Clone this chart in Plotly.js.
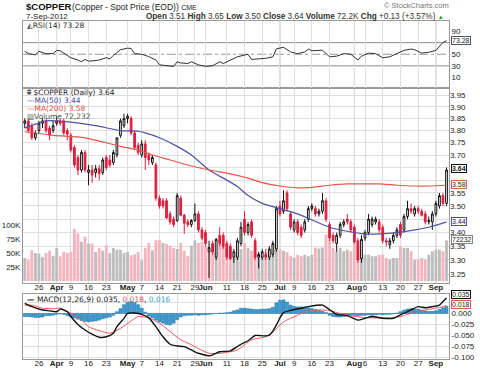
<!DOCTYPE html>
<html><head><meta charset="utf-8">
<script src="https://cdn.plot.ly/plotly-3.0.1.min.js"></script>
<style>html,body{margin:0;padding:0;background:#fff;}#chart{width:480px;height:369px;}</style>
</head><body><div id="chart"></div>
<script>
// ---- trading-day ticks (index 1 = 20-Mar-2012 ... 120 = 7-Sep-2012)
const tickIdx = [5,10,14,19,24,30,34,39,44,49,52,58,63,68,73,77,82,87,94,97,102,107,112,117];
const tickText = ['26','<b>Apr</b>','9','16','23','<b>May</b>','7','14','21','29','<b>Jun</b>','11','18','25','<b>Jul</b>','9','16','23','<b>Aug</b>','6','13','20','27','<b>Sep</b>'];
const monthIdx = [10,30,52,73,94,117];

// ---- price OHLC
const openP = [3.83,3.84,3.82,3.77,3.80,3.83,3.84,3.81,3.80,3.83,
3.84,3.84,3.80,3.78,3.73,3.69,3.64,3.71,3.63,3.64,
3.63,3.645,3.63,3.69,3.68,3.67,3.70,3.78,3.82,3.85,
3.85,3.79,3.74,3.70,3.745,3.70,3.67,3.66,3.53,3.52,
3.52,3.47,3.45,3.445,3.53,3.465,3.44,3.43,3.445,3.47,
3.41,3.40,3.33,3.36,3.31,3.39,3.39,3.36,3.35,3.31,
3.31,3.36,3.45,3.40,3.44,3.37,3.31,3.31,3.32,3.31,
3.32,3.34,3.50,3.48,3.55,3.47,3.41,3.44,3.42,3.41,
3.45,3.49,3.49,3.47,3.48,3.52,3.43,3.39,3.36,3.39,
3.43,3.45,3.44,3.42,3.37,3.305,3.38,3.40,3.43,3.44,
3.44,3.42,3.37,3.355,3.37,3.39,3.43,3.41,3.46,3.49,
3.47,3.49,3.48,3.47,3.44,3.44,3.47,3.50,3.54,3.51];
const highP = [3.85,3.85,3.83,3.80,3.84,3.85,3.85,3.82,3.84,3.86,
3.85,3.85,3.81,3.79,3.74,3.70,3.72,3.72,3.66,3.66,
3.66,3.66,3.69,3.70,3.70,3.72,3.77,3.85,3.87,3.87,
3.86,3.80,3.75,3.76,3.76,3.71,3.70,3.67,3.54,3.53,
3.53,3.48,3.46,3.55,3.54,3.47,3.45,3.45,3.51,3.48,
3.42,3.41,3.37,3.37,3.38,3.42,3.40,3.37,3.36,3.34,
3.38,3.44,3.48,3.44,3.45,3.38,3.33,3.34,3.34,3.35,
3.37,3.50,3.52,3.56,3.56,3.48,3.45,3.45,3.43,3.45,
3.50,3.51,3.50,3.49,3.55,3.53,3.44,3.40,3.40,3.44,
3.45,3.47,3.45,3.43,3.38,3.39,3.41,3.47,3.46,3.46,
3.45,3.43,3.38,3.38,3.40,3.42,3.44,3.47,3.52,3.51,
3.50,3.50,3.49,3.48,3.46,3.48,3.52,3.55,3.55,3.65];
const lowP = [3.81,3.79,3.76,3.76,3.79,3.81,3.79,3.76,3.79,3.82,
3.82,3.78,3.76,3.71,3.65,3.62,3.63,3.63,3.58,3.59,
3.61,3.60,3.62,3.64,3.65,3.66,3.69,3.77,3.81,3.83,
3.78,3.72,3.70,3.69,3.64,3.66,3.66,3.52,3.49,3.49,
3.45,3.43,3.42,3.44,3.46,3.395,3.42,3.42,3.44,3.40,
3.37,3.35,3.236,3.32,3.30,3.35,3.34,3.30,3.30,3.29,
3.30,3.35,3.39,3.39,3.38,3.30,3.27,3.30,3.30,3.30,
3.31,3.33,3.46,3.47,3.48,3.41,3.40,3.39,3.38,3.40,
3.44,3.48,3.46,3.46,3.47,3.44,3.37,3.36,3.33,3.38,
3.42,3.43,3.40,3.36,3.29,3.29,3.37,3.39,3.42,3.43,
3.40,3.36,3.35,3.34,3.36,3.38,3.38,3.40,3.45,3.47,
3.46,3.47,3.46,3.43,3.43,3.41,3.46,3.49,3.50,3.50];
const closeP = [3.84,3.80,3.77,3.79,3.83,3.84,3.80,3.78,3.82,3.84,
3.83,3.79,3.785,3.72,3.66,3.64,3.71,3.64,3.64,3.62,
3.645,3.625,3.68,3.65,3.66,3.71,3.77,3.84,3.85,3.86,
3.79,3.73,3.71,3.745,3.69,3.68,3.69,3.53,3.50,3.50,
3.455,3.44,3.43,3.54,3.465,3.435,3.43,3.445,3.47,3.41,
3.38,3.36,3.345,3.33,3.375,3.36,3.35,3.31,3.305,3.33,
3.37,3.42,3.40,3.43,3.39,3.31,3.32,3.33,3.31,3.34,
3.36,3.49,3.47,3.52,3.49,3.42,3.44,3.40,3.39,3.44,
3.49,3.50,3.47,3.48,3.52,3.45,3.38,3.37,3.39,3.43,
3.44,3.44,3.41,3.365,3.30,3.375,3.40,3.45,3.45,3.45,
3.41,3.37,3.365,3.37,3.39,3.41,3.39,3.46,3.49,3.48,
3.49,3.48,3.465,3.44,3.445,3.47,3.51,3.54,3.51,3.64];

// ---- volume (thousands)
const volumeK = [41,37,55,50,49,43,50,54,45,59, 44,52,50,52,93,85,70,79,67,67,
52,59,54,64,50,59,56,56,50,52, 46,48,52,37,59,68,55,73,73,68,
66,63,59,57,68,54,45,63,73,68, 70,63,57,57,52,66,63,57,57,49,
52,57,68,59,54,59,49,45,52,52, 54,74,57,54,52,45,42,47,44,47,
44,47,60,58,60,83,74,59,53,59, 53,56,53,68,62,53,47,47,44,44,
47,47,41,38,41,41,62,59,59,53, 38,38,41,38,47,53,56,56,53,72.232];

// ---- moving averages
const ma50X = [1,7,10,14,21,28,33,35,39,44,48,53,58,61,64,68,73,78,82,87,92,97,101,106,111,115,120];
const ma50Y = [3.81,3.84,3.84,3.835,3.82,3.80,3.797,3.79,3.77,3.735,3.70,3.64,3.60,3.575,3.54,3.51,3.49,3.47,3.447,3.42,3.405,3.395,3.395,3.40,3.41,3.42,3.44];
const ma200X = [1,9,18,28,33,37,42,47,53,59,64,68,73,78,82,87,92,97,101,106,111,115,120];
const ma200Y = [3.795,3.78,3.77,3.735,3.72,3.70,3.68,3.66,3.64,3.625,3.608,3.59,3.577,3.57,3.572,3.58,3.585,3.585,3.585,3.58,3.577,3.577,3.58];

// ---- RSI(14)
const rsiX = [1,2,4,5,7,9,10,11,13,14,16,17,18,19,20,22,24,25,26,28,30,31,32,34,36,38,39,41,43,44,45,47,48,50,52,54,56,57,59,61,64,65,67,69,71,72,74,76,78,80,81,82,85,86,87,89,91,93,95,96,98,100,102,104,106,108,110,111,113,115,117,118,119,120];
const rsiY = [55,51,49,55,51,51,56.5,56,48,44,40,37,41,38,38.5,40,44,42,48,57.8,60.5,60,51,50,46,40,31.7,30.5,29,37,35,34,37,31.7,29,30,37,34,40,45.6,50,41,42,43,45.6,59.4,62,54,51,54,59,56,57,51,45.6,46.7,51,50,40,46.7,52,51,44,45.6,51,56.7,59,57.8,52,53.5,56.7,63,70.5,73.28];

// ---- MACD(12,26,9)
const macdX = [1,3,6,8,10,11,13,14,16,18,20,22,24,26,27,29,30,32,34,36,38,40,42,44,46,48,50,53,54,56,59,61,62,64,66,67,69,70,71,72,73,74,76,79,81,85,89,92,95,97,99,102,105,107,110,112,114,116,118,119,120];
const macdY = [0.023,0.0155,0.008,0.006,0.004,0.010,0.004,-0.007,-0.025,-0.0375,-0.047,-0.054,-0.053,-0.045,-0.030,-0.011,0.000,0.001,-0.002,-0.010,-0.030,-0.053,-0.070,-0.074,-0.0755,-0.083,-0.0905,-0.096,-0.094,-0.087,-0.085,-0.075,-0.070,-0.062,-0.050,-0.050,-0.051,-0.049,-0.040,-0.026,-0.010,0.002,0.007,0.012,0.0155,0.019,-0.002,-0.005,-0.015,-0.011,-0.007,-0.011,-0.011,-0.003,0.008,0.0155,0.013,0.0155,0.019,0.027,0.035];
const sigX = [1,3,6,9,11,14,17,19,22,25,28,31,33,36,39,42,45,48,50,53,56,59,61,65,69,71,74,77,80,84,87,90,93,96,99,103,107,111,114,118,120];
const sigY = [0.019,0.019,0.012,0.0106,0.012,0.001,-0.0148,-0.030,-0.039,-0.045,-0.034,-0.017,-0.007,-0.010,-0.022,-0.041,-0.060,-0.071,-0.080,-0.0905,-0.0905,-0.087,-0.083,-0.060,-0.053,-0.042,-0.019,-0.0075,0.003,0.008,0.0068,0.000,-0.005,-0.0085,-0.010,-0.010,-0.007,0.003,0.008,0.0135,0.018];
const histY = [-0.007,-0.007,-0.008,-0.009,-0.009,-0.008,-0.005,-0.005,-0.004,-0.002,
-0.001,-0.002,-0.005,-0.008,-0.010,-0.013,-0.016,-0.018,-0.019,-0.018,
-0.017,-0.015,-0.012,-0.010,-0.008,-0.004,0.004,0.011,0.020,0.025,
0.027,0.025,0.020,0.012,0.003,-0.006,-0.010,-0.015,-0.019,-0.022,
-0.025,-0.026,-0.022,-0.014,-0.008,-0.005,-0.004,-0.004,-0.003,-0.004,
-0.003,-0.003,-0.002,-0.001,0.000,0.001,0.001,0.002,0.003,0.006,
0.008,0.012,0.012,0.011,0.010,0.009,0.009,0.010,0.010,0.011,
0.014,0.024,0.030,0.031,0.026,0.019,0.016,0.015,0.015,0.014,
0.013,0.011,0.009,0.007,0.005,0.002,-0.004,-0.007,-0.008,-0.008,
-0.007,-0.006,-0.004,-0.004,-0.005,-0.004,-0.004,-0.003,-0.004,-0.003,
-0.002,-0.003,-0.002,-0.002,-0.001,0.001,0.004,0.008,0.010,0.011,
0.010,0.010,0.008,0.006,0.005,0.005,0.006,0.009,0.013,0.016];

// axis ticks (labels hidden where the reference's value tags cover them)
const priceTicks = [3.25,3.30,3.35,3.40,3.45,3.50,3.55,3.60,3.65,3.70,3.75,3.80,3.85,3.90,3.95];
const priceHidden = [3.45,3.60,3.65];
const volTicks = [25,50,75,100];
const macdTicks = [-0.100,-0.075,-0.050,-0.025,0,0.025];
const macdHidden = [0.025];
const rsiTicks = [10,30,50,70,90];
const rsiHidden = [70];

// ---------- build
const idx = closeP.map((_, i) => i + 1);
const volColors = closeP.map((c, i) => (i > 0 && c < closeP[i-1]) ? '#f4b3bd' : '#bdbdbd');

const FONT = 'Liberation Sans, Arial, sans-serif';
const SMALL = 'DejaVu Sans, Liberation Sans, sans-serif';
const W = 480, H = 369, L = 23, R = 31;
const PW = W - L - R;
const px = x => (x - L) / PW;
const py = y => (H - y) / H;

const xr = [0.5, 120.7];
const gridC = '#dedede';
const lineC = '#9a9a9a';
function xAxis(anchor, labels) {
  return {
    anchor: anchor, range: xr, tickmode: 'array', tickvals: tickIdx, ticktext: tickText,
    showticklabels: labels, tickangle: 0, ticklabelstandoff: -4,
    tickfont: {size: 8, color: '#222', family: FONT},
    showgrid: true, gridcolor: gridC, gridwidth: 1, zeroline: false, ticks: '',
    showline: true, linecolor: lineC, linewidth: 1, mirror: true,
    rangeslider: {visible: false}, fixedrange: true
  };
}
const hideTxt = (vals, hidden, fmt) => vals.map(v => hidden.includes(v) ? '' : fmt(v));

const traces = [
  {type: 'scatter', x: rsiX, y: rsiY, xaxis: 'x3', yaxis: 'y', mode: 'lines',
   line: {color: '#333', width: 1}, hoverinfo: 'skip'},
  {type: 'bar', x: idx, y: volumeK.map(v => v * 1000), xaxis: 'x2', yaxis: 'y2',
   marker: {color: volColors, line: {width: 0}}, width: 0.8, hoverinfo: 'skip'},
  {type: 'candlestick', x: idx, open: openP, high: highP, low: lowP, close: closeP,
   xaxis: 'x2', yaxis: 'y3', whiskerwidth: 0,
   increasing: {line: {color: '#111', width: 1}, fillcolor: '#ffffff'},
   decreasing: {line: {color: '#dc1f3d', width: 1}, fillcolor: '#dc1f3d'}, hoverinfo: 'skip'},
  {type: 'scatter', x: ma50X, y: ma50Y, xaxis: 'x2', yaxis: 'y3', mode: 'lines',
   line: {color: '#5151a8', width: 1.2, shape: 'spline', smoothing: 0.8}, hoverinfo: 'skip'},
  {type: 'scatter', x: ma200X, y: ma200Y, xaxis: 'x2', yaxis: 'y3', mode: 'lines',
   line: {color: '#e3594c', width: 1.2, shape: 'spline', smoothing: 0.8}, hoverinfo: 'skip'},
  {type: 'bar', x: idx, y: histY, xaxis: 'x', yaxis: 'y4',
   marker: {color: '#3e9bd3', line: {color: '#1f6e9e', width: 0.5}}, width: 0.85, hoverinfo: 'skip'},
  {type: 'scatter', x: sigX, y: sigY, xaxis: 'x', yaxis: 'y4', mode: 'lines',
   line: {color: '#ee5a5f', width: 1, shape: 'spline', smoothing: 0.6}, hoverinfo: 'skip'},
  {type: 'scatter', x: macdX, y: macdY, xaxis: 'x', yaxis: 'y4', mode: 'lines',
   line: {color: '#111', width: 1.4, shape: 'spline', smoothing: 0.6}, hoverinfo: 'skip'}
];

const shapes = [];
[['x3','y domain'],['x2','y2 domain'],['x','y4 domain']].forEach(([xa, ya]) => {
  monthIdx.forEach(m => shapes.push({type: 'line', xref: xa, yref: ya, x0: m, x1: m, y0: 0, y1: 1,
    line: {color: '#bdbdbd', width: 1}, layer: 'below'}));
});
shapes.push({type: 'line', xref: 'x3 domain', yref: 'y', x0: 0, x1: 1, y0: 70, y1: 70, line: {color: '#8a8a8a', width: 1}, layer: 'below'});
shapes.push({type: 'line', xref: 'x3 domain', yref: 'y', x0: 0, x1: 1, y0: 30, y1: 30, line: {color: '#8a8a8a', width: 1}, layer: 'below'});
shapes.push({type: 'line', xref: 'x3 domain', yref: 'y', x0: 0, x1: 1, y0: 50, y1: 50, line: {color: '#999', width: 1, dash: 'dashdot'}, layer: 'below'});

function ann(x, y, text, opts) {
  return Object.assign({xref: 'paper', yref: 'paper', x: px(x), y: py(y), text: text, showarrow: false,
    xanchor: 'left', yanchor: 'middle', font: {size: 8, color: '#222', family: FONT}}, opts || {});
}
function tag(y, text, border, bold) {
  return ann(451, y, bold ? '<b>' + text + '</b>' : text, {bgcolor: '#ffffff', bordercolor: border,
    borderwidth: 1, borderpad: 0, font: {size: 7, color: '#222', family: FONT}});
}
const last = closeP.length - 1;
const annotations = [
  ann(24, 7, '<b>$COPPER</b>', {font: {size: 9.5, color: '#111', family: FONT}}),
  ann(70, 7, '(Copper - Spot Price (EOD)) <span style="font-size:7px">CME</span>', {font: {size: 8.5, color: '#222', family: FONT}}),
  ann(24, 16, '7-Sep-2012', {font: {size: 8, color: '#222', family: FONT}}),
  ann(446, 16, '<b>Open</b> ' + openP[last].toFixed(2) + ' <b>High</b> ' + highP[last].toFixed(2) +
      ' <b>Low</b> ' + lowP[last].toFixed(2) + ' <b>Close</b> ' + closeP[last].toFixed(2) +
      ' <b>Volume</b> 72.2K <b>Chg</b> +0.13 (+3.57%) <span style="color:#2a9a2a;font-size:6px">▲</span>',
      {xanchor: 'right', font: {size: 8.2, color: '#333', family: FONT}}),
  ann(451, 6, '© StockCharts.com', {xanchor: 'right', font: {size: 7.5, color: '#777', family: FONT}}),
  ann(25, 25.5, '<span style="color:#555">◭</span>RSI(14) 73.28', {font: {size: 7.5, color: '#333', family: SMALL}}),
  ann(25, 92, '<span style="color:#555">⩩</span> $COPPER (Daily) 3.64', {font: {size: 7.5, color: '#222', family: SMALL}}),
  ann(25, 100, '—MA(50) 3.44', {font: {size: 7.5, color: '#4a4aa0', family: SMALL}}),
  ann(25, 108, '—MA(200) 3.58', {font: {size: 7.5, color: '#e0503f', family: SMALL}}),
  ann(25, 116, '<span style="color:#666">▥</span>Volume 72,232', {font: {size: 7.5, color: '#555', family: SMALL}}),
  ann(25, 299, '<b>—</b> MACD(12,26,9) 0.035, <span style="color:#e8505a">0.018</span>, <span style="color:#2d9fd0">0.016</span>',
      {font: {size: 7.5, color: '#222', family: SMALL}}),
  tag(40, '73.28', '#555', false),
  tag(168, '3.64', '#111', true),
  tag(185, '3.58', '#e3594c', false),
  tag(222, '3.44', '#5151a8', false),
  tag(239, '72232', '#888', false),
  tag(294.5, '0.035', '#111', false),
  tag(304, '0.018', '#e3594c', false)
];

const mainLogTop = Math.log10(3.95) + 7.5 / 2113;
const mainLogBot = Math.log10(3.95) - 188 / 2113;

const layout = {
  width: W, height: H, margin: {l: L, r: R, t: 0, b: 0, pad: 0},
  paper_bgcolor: '#fff', plot_bgcolor: '#fff', showlegend: false,
  font: {family: FONT, size: 8, color: '#222'},
  boxgap: 0.3, bargap: 0.2,
  xaxis: xAxis('y4', true),
  xaxis2: Object.assign(xAxis('y2', true), {matches: 'x'}),
  xaxis3: Object.assign(xAxis('y', false), {matches: 'x'}),
  yaxis: {domain: [py(87.5), py(21)], range: [-7.4, 107.4], side: 'right', tickmode: 'array', tickvals: rsiTicks,
    ticktext: hideTxt(rsiTicks, rsiHidden, v => String(v)),
    showgrid: false, zeroline: false, ticks: '', tickfont: {size: 8, color: '#222'},
    showline: true, linecolor: lineC, mirror: true, fixedrange: true},
  yaxis2: {domain: [py(283), py(87.5)], range: [-3570, 345600], side: 'left',
    tickmode: 'array', tickvals: volTicks.map(v => v * 1000), ticktext: volTicks.map(v => v + 'K'),
    showgrid: false, zeroline: false, ticks: '', tickfont: {size: 8, color: '#222'},
    showline: true, linecolor: lineC, mirror: true, fixedrange: true},
  yaxis3: {overlaying: 'y2', anchor: 'x2', type: 'log', range: [mainLogBot, mainLogTop], side: 'right',
    tickmode: 'array', tickvals: priceTicks, ticktext: hideTxt(priceTicks, priceHidden, v => v.toFixed(2)),
    showgrid: true, gridcolor: gridC, zeroline: false, ticks: '', tickfont: {size: 8, color: '#222'},
    showline: false, fixedrange: true},
  yaxis4: {domain: [py(359), py(294)], range: [-0.1035, 0.0443], side: 'right',
    tickmode: 'array', tickvals: macdTicks, ticktext: hideTxt(macdTicks, macdHidden, v => v.toFixed(3)),
    showgrid: true, gridcolor: gridC, zeroline: false, ticks: '', tickfont: {size: 8, color: '#222'},
    showline: true, linecolor: lineC, mirror: true, fixedrange: true},
  shapes: shapes,
  annotations: annotations
};

Plotly.newPlot('chart', traces, layout, {staticPlot: true, displayModeBar: false});
</script>
</body></html>
